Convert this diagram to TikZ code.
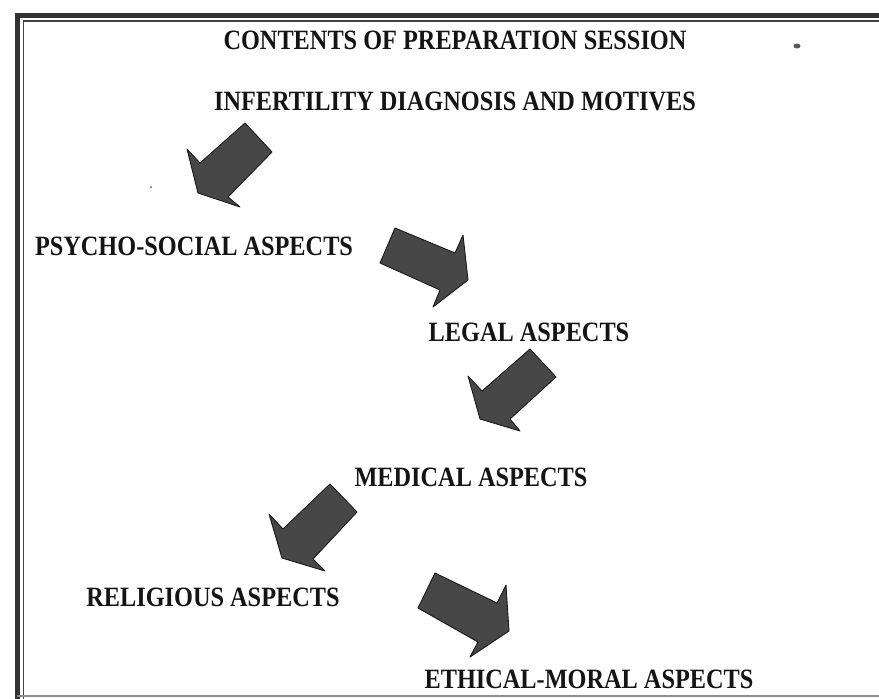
\documentclass[tikz,border=0pt]{standalone}
\usepackage{graphicx}
\usepackage{fontspec}
\setmainfont{Liberation Serif}
\newcommand\vstr[1]{\scalebox{1}[1.15]{#1}}
\begin{document}
\begin{tikzpicture}[x=1pt,y=-1pt,
  lbl/.style={font=\fontsize{24.3}{29}\selectfont\bfseries, text=black!92, inner sep=0pt, anchor=center},
  fatarrow/.style={fill=black!72, draw=black!90, line width=0.9pt, line join=round},
  outerframe/.style={draw=black!80, line width=5pt},
  innerframe/.style={draw=black!75, line width=1.5pt},
  speck/.style={fill=black!65, draw=none}]
\useasboundingbox (0,0) rectangle (879,699);
\fill[white] (0,0) rectangle (879,699);
% frame
\draw[outerframe] (17.5,699) -- (17.5,15) -- (879,15);
\draw[innerframe] (23.5,699) -- (23.5,21) -- (879,21);
\draw[draw=black!45, line width=2pt] (17,696) -- (879,696);
% specks
\fill[speck] (797,46) ellipse (3.5pt and 2.5pt);
\fill[speck] (151,187) circle (1pt);
% labels
\node[lbl] (title) at (455,40) {\vstr{CONTENTS OF PREPARATION SESSION}};
\node[lbl] (infert) at (455,101) {\vstr{INFERTILITY DIAGNOSIS AND MOTIVES}};
\node[lbl] (psycho) at (194,246) {\vstr{PSYCHO-SOCIAL ASPECTS}};
\node[lbl] (legal) at (529,332) {\vstr{LEGAL ASPECTS}};
\node[lbl] (medical) at (471,477) {\vstr{MEDICAL ASPECTS}};
\node[lbl] (relig) at (213,597) {\vstr{RELIGIOUS ASPECTS}};
\node[lbl] (ethic) at (589,679) {\vstr{ETHICAL-MORAL ASPECTS}};
% block arrows
\filldraw[fatarrow] (245,123) -- (272,152) -- (228,197) -- (240,207) -- (198,193) -- (187,149) -- (200,163) -- cycle;
\filldraw[fatarrow] (395,228) -- (455,253) -- (463,235) -- (468,280) -- (433,307) -- (440,290) -- (380,263) -- cycle;
\filldraw[fatarrow] (530,349) -- (556,377) -- (510,419) -- (520,431) -- (480,419) -- (468,376) -- (482,391) -- cycle;
\filldraw[fatarrow] (330,484) -- (357,512) -- (313,559) -- (325,571) -- (282,558) -- (269,514) -- (283,529) -- cycle;
\filldraw[fatarrow] (435,573) -- (497,603) -- (506,585) -- (509,631) -- (470,657) -- (478,642) -- (418,608) -- cycle;
\end{tikzpicture}
\end{document}
